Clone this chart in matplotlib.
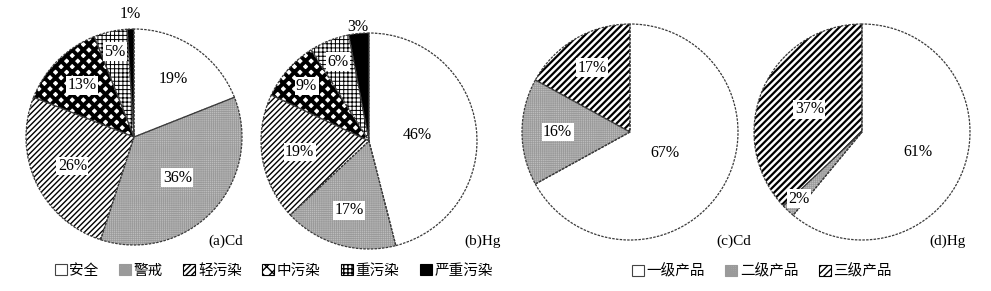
import numpy as np
import matplotlib
matplotlib.use("Agg")
import matplotlib.pyplot as plt
from matplotlib.patches import Patch

plt.rcParams['font.family'] = ['Liberation Serif', 'Noto Sans CJK SC', 'DejaVu Sans']
plt.rcParams['hatch.linewidth'] = 1.0

# pollution levels (a, b)
levels = ['安全', '警戒', '轻污染', '中污染', '重污染', '严重污染']
cd_levels = [19, 36, 26, 13, 5, 1]
hg_levels = [46, 17, 19, 9, 6, 3]
# product grades (c, d)
grades = ['一级产品', '二级产品', '三级产品']
cd_grades = [67, 16, 17]
hg_grades = [61, 2, 37]

# style per class: facecolor, hatch, hatch colour, hatch width
sty_levels = [('white', '', 'black', 1.0),
              ('#bcbcbc', '++++++++', '#9a9a9a', 0.5),
              ('white', '//////', 'black', 1.0),
              ('white', 'xxx', 'black', 2.8),
              ('white', '++++', 'black', 0.7),
              ('black', '', 'black', 1.0)]
sty_grades = [sty_levels[0], sty_levels[1], ('white', '/////', 'black', 1.6)]

W, H = 991, 291
fig = plt.figure(figsize=(W / 100, H / 100), dpi=100)
ax = fig.add_axes([0, 0, 1, 1])
ax.set_xlim(0, W)
ax.set_ylim(0, H)
ax.set_aspect('equal')
ax.axis('off')

R = 108


def draw(vals, styles, cx, cy, dists, tag, tagx):
    cy = H - cy
    wedges, _ = ax.pie(vals, startangle=90, counterclock=False,
                       center=(cx, cy), radius=R, frame=True)
    for w, (fc, hatch, hc, hlw) in zip(wedges, styles):
        w.set_facecolor(fc)
        w.set_edgecolor(hc)
        w.set_linewidth(0)
        w.set_hatch(hatch)
        if hasattr(w, 'set_hatch_linewidth'):
            w.set_hatch_linewidth(hlw)
    ax.pie(vals, startangle=90, counterclock=False, center=(cx, cy), radius=R,
           frame=True, wedgeprops=dict(fill=False, edgecolor='#3a3a3a',
                                       linewidth=0.9, linestyle=(0, (2, 1))))
    cum = np.cumsum([0] + list(vals))
    for i, v in enumerate(vals):
        mid = (cum[i] + cum[i + 1]) / 2 / 100 * 2 * np.pi
        d = dists[i] * R
        x = cx + d * np.sin(mid)
        y = cy + d * np.cos(mid)
        box = None if dists[i] > 1 else dict(facecolor='white', edgecolor='none', pad=1.0)
        ax.text(x, y, f'{v}%', ha='center', va='center', fontsize=11.5, bbox=box)
    ax.text(tagx, H - 241, tag, ha='right', va='center', fontsize=11)


draw(cd_levels, sty_levels, 134, 137, [0.65, 0.55, 0.63, 0.68, 0.81, 1.14], '(a)Cd', 243)
draw(hg_levels, sty_levels, 369, 141, [0.45, 0.67, 0.65, 0.77, 0.79, 1.06], '(b)Hg', 501)
draw(cd_grades, sty_grades, 630, 132, [0.38, 0.67, 0.69], '(c)Cd', 751)
draw(hg_grades, sty_grades, 862, 132, [0.55, 0.85, 0.53], '(d)Hg', 966)

ax.set_xlim(0, W)
ax.set_ylim(0, H)


def handles(names, styles):
    hs = []
    for n, (fc, hatch, hc, hlw) in zip(names, styles):
        p = Patch(facecolor=fc, edgecolor=hc if hatch or fc == 'black' else '#444444',
                  hatch=hatch, linewidth=0.8, label=n)
        hs.append(p)
    return hs


leg1 = ax.legend(handles=handles(levels, sty_levels), ncol=6, frameon=False,
                 loc='center', bbox_to_anchor=(274 / W, 1 - 271 / H),
                 fontsize=10.5, handlelength=0.8, handleheight=0.8,
                 handletextpad=0.2, columnspacing=1.4, borderaxespad=0)
ax.add_artist(leg1)
ax.legend(handles=handles(grades, sty_grades), ncol=3, frameon=False,
          loc='center', bbox_to_anchor=(762 / W, 1 - 271 / H),
          fontsize=10.5, handlelength=0.8, handleheight=0.8,
          handletextpad=0.2, columnspacing=1.4, borderaxespad=0)

fig.savefig('out.png', dpi=100)
